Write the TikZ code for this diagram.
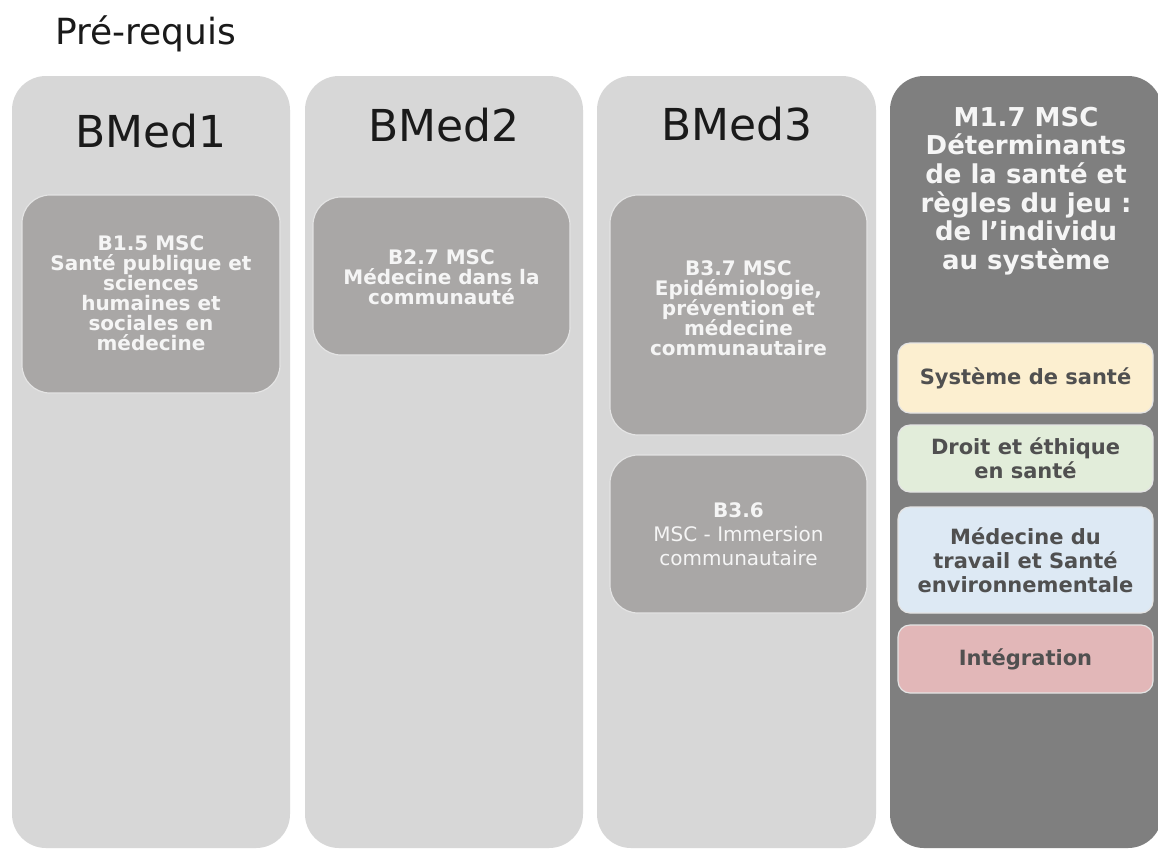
\documentclass[tikz,border=0pt]{standalone}
\usepackage{fontspec}
\setmainfont{DejaVu Sans}
\definecolor{colbg}{HTML}{D7D7D7}
\definecolor{darkcol}{HTML}{7F7F7F}
\definecolor{innerbox}{HTML}{A9A7A6}
\definecolor{innerline}{HTML}{E4E4E4}
\definecolor{boxyellow}{HTML}{FCEFD0}
\definecolor{boxgreen}{HTML}{E2EDDA}
\definecolor{boxblue}{HTML}{DDE9F4}
\definecolor{boxpink}{HTML}{E2B7B8}
\definecolor{txtdark}{HTML}{505050}
\definecolor{txtlight}{HTML}{F5F5F5}
\definecolor{headtxt}{HTML}{1A1A1A}
\lineskiplimit=-50pt
\begin{document}
\begin{tikzpicture}[x=1pt,y=-1pt,
  column/.style={rounded corners=34pt, inner sep=0pt, minimum height=772pt},
  heading/.style={font=\fontsize{44}{44}\selectfont, text=headtxt, anchor=base},
  coursebox/.style={fill=innerbox, draw=innerline, line width=1.2pt, rounded corners=28pt, inner sep=0pt, minimum width=257pt},
  coursetxt/.style={text=txtlight, align=center, font=\fontsize{20}{20}\selectfont\bfseries, inner sep=0pt},
  subbox/.style={draw=innerline, line width=1.2pt, rounded corners=12pt, inner sep=0pt, minimum width=255pt, text=txtdark, align=center, font=\fontsize{21}{24}\selectfont\bfseries},
]
\useasboundingbox (0,0) rectangle (1158,849);
\fill[white] (0,0) rectangle (1158,849);

\node[anchor=base west, font=\fontsize{36}{36}\selectfont, text=headtxt, inner sep=0pt] (title) at (55,44) {Pré-requis};

% columns
\node[column, fill=colbg, minimum width=278pt] (col1) at (151,462) {};
\node[column, fill=colbg, minimum width=278pt] (col2) at (444,462) {};
\node[column, fill=colbg, minimum width=279pt] (col3) at (736.5,462) {};
\node[column, fill=darkcol, minimum width=272pt] (col4) at (1026,462) {};

% headings
\node[heading] (h1) at (151,147) {BMed1};
\node[heading] (h2) at (444,141) {BMed2};
\node[heading] (h3) at (737,140) {BMed3};

% course boxes
\node[coursebox, minimum width=258pt, minimum height=198pt] (b15) at (151,294) {};
\node[coursetxt] (b15t) at (151,293) {B1.5 MSC\\Santé publique et\\sciences\\humaines et\\sociales en\\médecine};

\node[coursebox, minimum height=158pt] (b27) at (441.5,276) {};
\node[coursetxt] (b27t) at (441.5,277) {B2.7 MSC\\Médecine dans la\\communauté};

\node[coursebox, minimum height=240pt] (b37) at (738.5,315) {};
\node[coursetxt] (b37t) at (738.5,308) {B3.7 MSC\\Epidémiologie,\\prévention et\\médecine\\communautaire};

\node[coursebox, minimum height=158pt] (b36) at (738.5,534) {};
\node[coursetxt, font=\fontsize{20}{24}\selectfont] (b36t) at (738.5,534) {\textbf{B3.6}\\MSC - Immersion\\communautaire};

% M1.7 title
\node[text=txtlight, align=center, font=\fontsize{26}{28.6}\selectfont\bfseries, inner sep=0pt] (m17) at (1026,191) {M1.7 MSC\\Déterminants\\de la santé et\\règles du jeu :\\de l’individu\\au système};

% sub boxes
\node[subbox, fill=boxyellow, minimum height=70pt] (sys) at (1025.5,378) {Système de santé};
\node[subbox, fill=boxgreen, minimum height=67pt] (droit) at (1025.5,458.5) {Droit et éthique\\en santé};
\node[subbox, fill=boxblue, minimum height=106pt] (medtrav) at (1025.5,560) {Médecine du\\travail et Santé\\environnementale};
\node[subbox, fill=boxpink, minimum height=68pt] (integ) at (1025.5,659) {Intégration};
\end{tikzpicture}
\end{document}
